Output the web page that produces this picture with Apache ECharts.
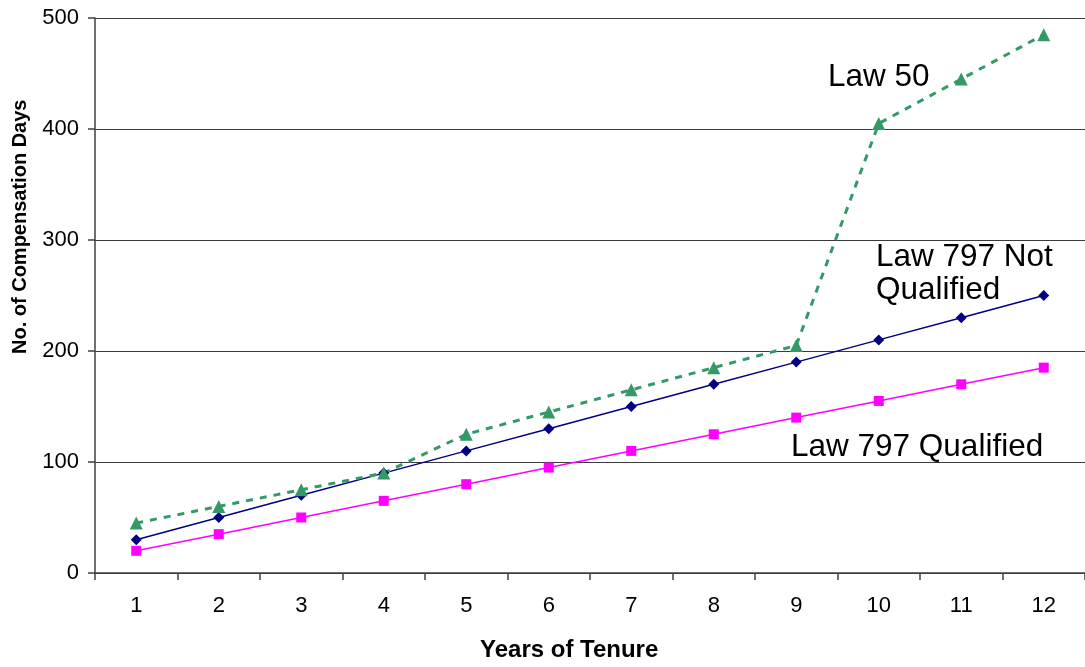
<!DOCTYPE html>
<html><head><meta charset="utf-8">
<script src="https://cdn.jsdelivr.net/npm/echarts@6/dist/echarts.min.js"></script>
<style>html,body{margin:0;padding:0;background:#fff}#c{width:1085px;height:667px}</style>
</head><body><div id="c"></div>
<script>
const categories = ['1','2','3','4','5','6','7','8','9','10','11','12'];
const law50 = [45, 60, 75, 90, 125, 145, 165, 185, 205, 405, 445, 485];
const law797NotQualified = [30, 50, 70, 90, 110, 130, 150, 170, 190, 210, 230, 250];
const law797Qualified = [20, 35, 50, 65, 80, 95, 110, 125, 140, 155, 170, 185];
const yTicks = [0, 100, 200, 300, 400, 500];

const chart = echarts.init(document.getElementById('c'), null, {renderer: 'canvas'});
const font = 'Arial, "Liberation Sans", sans-serif';
chart.setOption({
  animation: false,
  grid: {left: 95, right: 0, top: 18, bottom: 94},
  xAxis: {
    type: 'category', data: categories, boundaryGap: true,
    axisLine: {lineStyle: {color: '#404040', width: 1.5}},
    axisTick: {show: true, length: 7, alignWithLabel: false, lineStyle: {color: '#404040', width: 1.5}},
    axisLabel: {fontFamily: font, fontSize: 22, color: '#000', margin: 22}
  },
  yAxis: {
    type: 'value', min: yTicks[0], max: yTicks[yTicks.length - 1], interval: 100,
    axisLine: {show: true, lineStyle: {color: '#404040', width: 1.5}},
    axisTick: {show: true, length: 7, lineStyle: {color: '#404040', width: 1.5}},
    axisLabel: {fontFamily: font, fontSize: 22, color: '#000', margin: 16},
    splitLine: {show: true, lineStyle: {color: '#3a3a3a', width: 1.2}}
  },
  graphic: [
    {type: 'text', left: 480, top: 638, style: {text: 'Years of Tenure', font: 'bold 24px ' + font, fill: '#000'}},
    {type: 'text', x: 10, y: 354, rotation: Math.PI / 2, style: {text: 'No. of Compensation Days', font: 'bold 20px ' + font, fill: '#000'}},
    {type: 'text', left: 828, top: 61, style: {text: 'Law 50', font: '31.5px ' + font, fill: '#000'}},
    {type: 'text', left: 876, top: 241, style: {text: 'Law 797 Not\nQualified', font: '31.5px ' + font, fill: '#000', lineHeight: 33}},
    {type: 'text', left: 791, top: 431, style: {text: 'Law 797 Qualified', font: '31.5px ' + font, fill: '#000'}}
  ],
  series: [
    {name: 'Law 797 Qualified', type: 'line', data: law797Qualified,
     symbol: 'rect', symbolSize: 10, itemStyle: {color: '#FF00FF'},
     lineStyle: {color: '#FF00FF', width: 1.5}},
    {name: 'Law 797 Not Qualified', type: 'line', data: law797NotQualified,
     symbol: 'diamond', symbolSize: 11, itemStyle: {color: '#000080'},
     lineStyle: {color: '#000080', width: 1.5}},
    {name: 'Law 50', type: 'line', data: law50,
     symbol: 'triangle', symbolSize: 13, itemStyle: {color: '#339966'},
     lineStyle: {color: '#339966', width: 3, type: [7, 7]}}
  ]
});
</script></body></html>
